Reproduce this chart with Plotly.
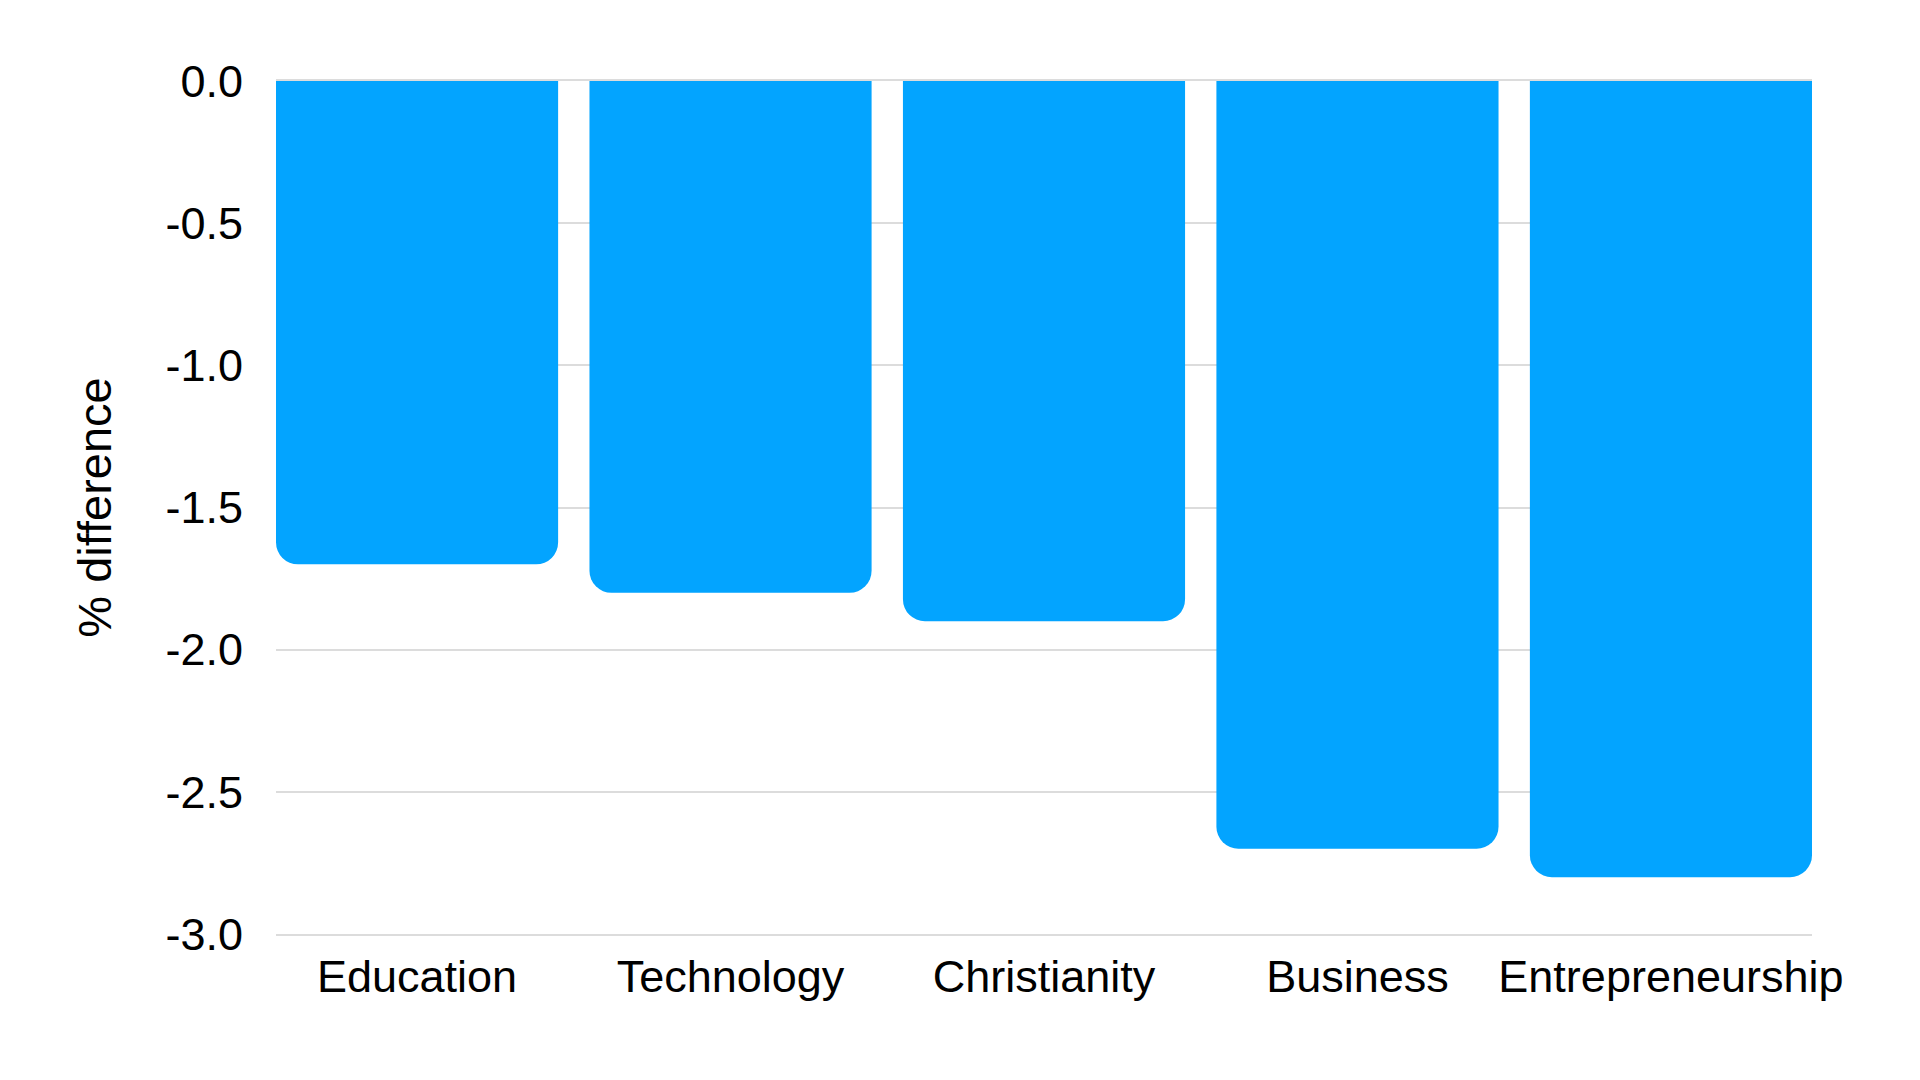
import plotly.graph_objects as go

categories = ["Education", "Technology", "Christianity", "Business", "Entrepreneurship"]
pct_difference = [-1.7, -1.8, -1.9, -2.7, -2.8]
y_ticks = [0.0, -0.5, -1.0, -1.5, -2.0, -2.5, -3.0]
y_tick_labels = ["0.0", "-0.5", "-1.0", "-1.5", "-2.0", "-2.5", "-3.0"]

FONT = "Liberation Sans, Arial, sans-serif"
GRID = "#dcdcdc"

fig = go.Figure(
    go.Bar(
        x=categories,
        y=pct_difference,
        width=0.9,
        marker=dict(color="#03a4ff", line=dict(width=0), cornerradius=22),
    )
)

# page body has an 8px margin, so the margins are shifted to compensate
fig.update_layout(
    width=1920,
    height=1080,
    margin=dict(l=268, r=116, t=73, b=154),
    paper_bgcolor="white",
    plot_bgcolor="white",
    showlegend=False,
    font=dict(family=FONT, size=45, color="black"),
)

# x axis line + mirror give the gridlines at 0 and -3 (behind the bars)
fig.update_xaxes(
    range=[-0.45, 4.45],
    showgrid=False,
    showline=True,
    mirror=True,
    linecolor=GRID,
    linewidth=1.5,
    layer="below traces",
    ticks="",
    ticklabelstandoff=2,
    tickfont=dict(size=45),
)

fig.update_yaxes(
    range=[-3.0, 0.0],
    tickvals=y_ticks,
    ticktext=y_tick_labels,
    showgrid=True,
    gridcolor=GRID,
    gridwidth=1.5,
    zeroline=False,
    showline=False,
    ticks="",
    ticklabelstandoff=32,
    tickfont=dict(size=45),
    title=dict(text="% difference", font=dict(size=47), standoff=39),
)

fig.write_html("out.html")
